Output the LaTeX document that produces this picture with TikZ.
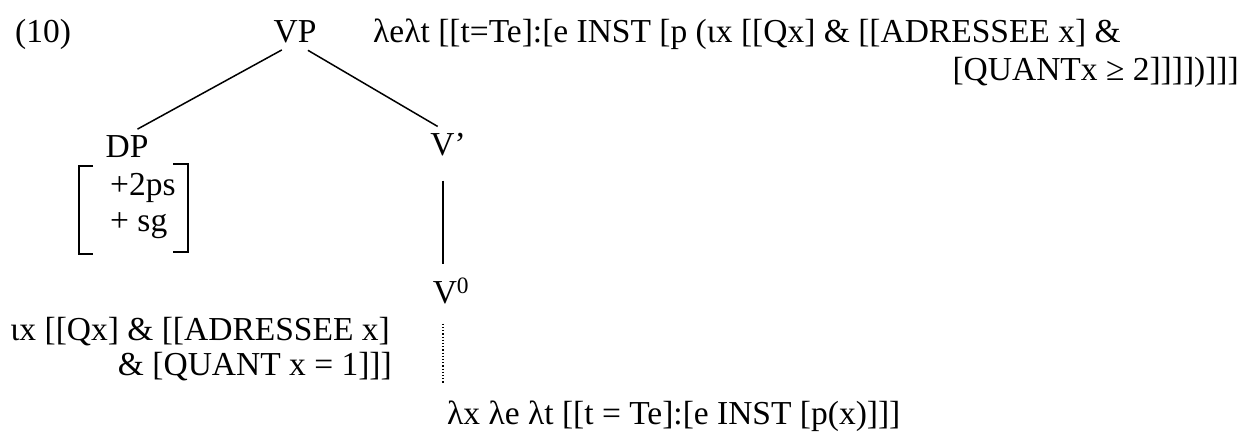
\documentclass[tikz,border=0pt]{standalone}
\usepackage{fontspec}
\setmainfont{Liberation Serif}
\usetikzlibrary{positioning}

\begin{document}
\begin{tikzpicture}[
  x=1pt, y=-1pt,
  font=\fontsize{33.5}{38}\selectfont,
  cat/.style={inner sep=0pt, anchor=base},
  sem/.style={inner sep=0pt, anchor=base west},
  semr/.style={inner sep=0pt, anchor=base east},
  branch/.style={line width=1.5pt}
]
\useasboundingbox (0,0) rectangle (1246,437);

% Example number and tree nodes
\node[sem] (num) at (15,42) {(10)};
\node[cat] (vp) at (295,42) {VP};
\node[cat] (dp) at (127,157) {DP};
\node[cat] (vbar) at (448,155) {V'};
\node[cat] (v0) at (451,303) {V\textsuperscript{0}};

% Feature matrix under DP
\node[sem] (f1) at (110,195) {+2ps};
\node[sem] (f2) at (110,231) {+ sg};
\draw[line width=1.3pt] (93,166) -- (79,166) -- (79,254) -- (93,254);
\draw[line width=1.3pt] (173,164) -- (188,164) -- (188,252) -- (173,252);

% Semantic labels
\node[sem] (semvp) at (373,42) {λeλt [[t=Te]:[e INST [p (ιx [[Qx] \& [[ADRESSEE x] \&};
\node[semr] (semvp2) at (1239,80) {[QUANTx ≥ 2]]]])]]]};
\node[semr] (semdp) at (390,340) {ιx [[Qx] \& [[ADRESSEE x]};
\node[semr] (semdp2) at (392,375) {\& [QUANT x = 1]]]};
\node[sem] (semv0) at (447,424) {λx λe λt [[t = Te]:[e INST [p(x)]]]};

% Branches
\draw[branch, shorten <=15pt, shorten >=12pt] (vp.south) -- (dp.north);
\draw[branch, shorten <=15pt, shorten >=12pt] (vp.south) -- (vbar.north);
\draw[branch, shorten <=25pt, shorten >=14pt] ([xshift=-5pt]vbar.south) -- ([xshift=-8pt]v0.north);
\draw[dotted, line width=1.2pt, shorten <=20pt, shorten >=16pt] ([xshift=-8pt]v0.south) -- ([xshift=-8pt]v0.south |- semv0.north);
\end{tikzpicture}
\end{document}
